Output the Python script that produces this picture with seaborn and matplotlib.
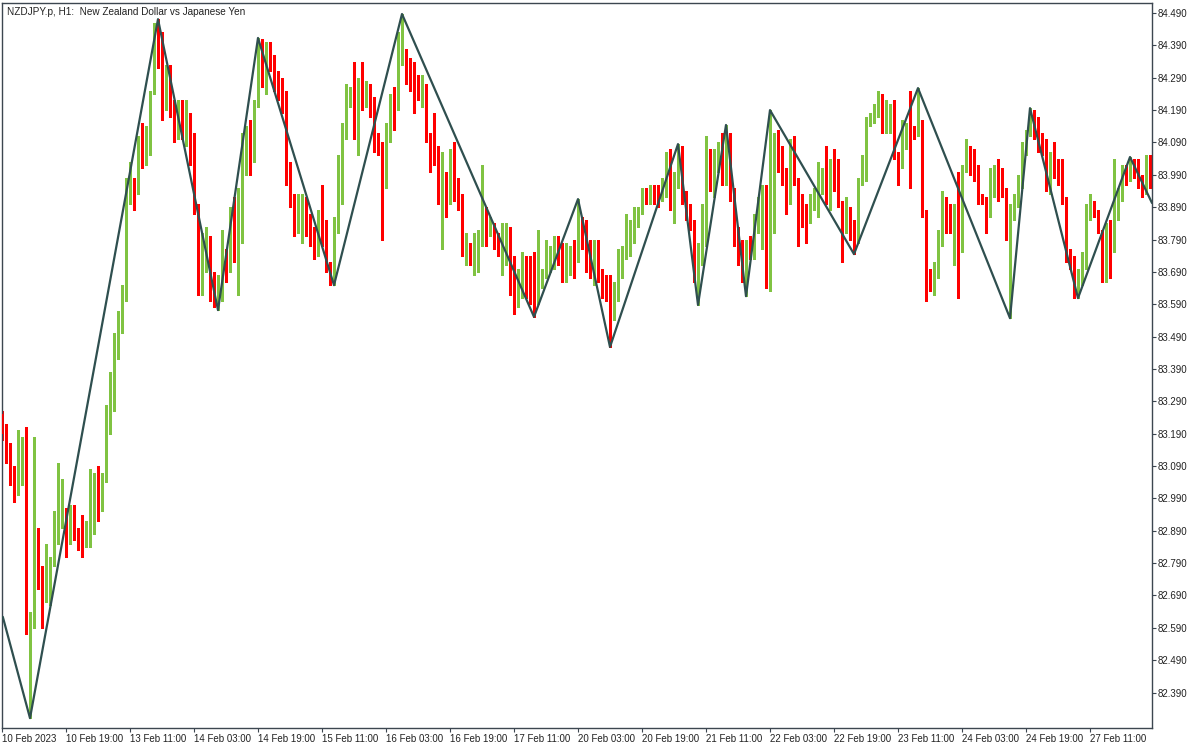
import numpy as np
import pandas as pd
import matplotlib
matplotlib.use("Agg")
import matplotlib.pyplot as plt
import seaborn as sns

# NZDJPY H1 candles (open of each bar = previous close)
first_open = 83.25
closes = [
    83.19, 83.15, 83.07, 83.05, 83.08, 83.13, 82.61, 82.62, 82.84, 82.75,
    82.68, 82.71, 82.79, 82.92, 82.94, 82.95, 82.87, 82.95, 82.88, 82.87,
    82.85, 82.85, 83.02, 83.04, 82.97, 83.05, 83.20, 83.35, 83.45, 83.54,
    83.63, 83.95, 83.97, 83.94, 84.10, 84.02, 84.09, 84.25, 84.45, 84.37,
    84.28, 84.31, 84.20, 84.10, 84.16, 84.13, 84.15, 84.09, 83.89, 83.71,
    83.77, 83.79, 83.63, 83.60, 83.63, 83.72, 83.70, 83.82, 83.80, 83.87,
    84.00, 84.11, 84.04, 84.21, 84.40, 84.30, 84.38, 84.35, 84.27, 84.25,
    84.23, 84.02, 83.91, 83.83, 83.85, 83.89, 83.83, 83.81, 83.77, 83.86,
    83.84, 83.70, 83.66, 83.84, 83.92, 84.13, 84.22, 84.23, 84.13, 84.28,
    84.22, 84.26, 84.20, 84.09, 84.08, 83.97, 84.14, 84.23, 84.20, 84.35,
    84.37, 84.34, 84.29, 84.27, 84.25, 84.26, 84.10, 84.08, 84.07, 83.91,
    83.94, 83.92, 84.04, 83.95, 83.92, 83.76, 83.77, 83.72, 83.73, 83.81,
    83.88, 83.82, 83.83, 83.79, 83.76, 83.80, 83.81, 83.73, 83.60, 83.69,
    83.72, 83.65, 83.64, 83.60, 83.65, 83.68, 83.73, 83.75, 83.79, 83.77,
    83.67, 83.72, 83.74, 83.73, 83.81, 83.80, 83.76, 83.69, 83.77, 83.68,
    83.66, 83.63, 83.55, 83.63, 83.72, 83.74, 83.81, 83.82, 83.86, 83.88,
    83.94, 83.91, 83.95, 83.93, 83.92, 83.93, 84.05, 83.90, 83.96, 84.07,
    83.92, 83.87, 83.84, 83.69, 83.73, 83.78, 83.99, 83.95, 84.04, 84.05,
    83.97, 84.03, 83.93, 83.79, 83.72, 83.71, 83.78, 83.75, 83.83, 83.84,
    83.92, 83.75, 83.83, 84.09, 84.03, 83.99, 83.92, 84.08, 83.97, 83.88,
    83.87, 83.86, 83.90, 83.93, 83.96, 83.99, 83.91, 84.00, 83.96, 83.91,
    83.82, 83.86, 83.84, 83.79, 83.97, 84.03, 84.15, 84.17, 84.18, 84.22,
    84.13, 84.14, 84.18, 84.05, 84.03, 84.09, 84.14, 84.13, 84.12, 84.15,
    83.87, 83.68, 83.65, 83.69, 83.78, 83.90, 83.83, 83.82, 83.87, 83.81,
    84.01, 84.07, 84.00, 83.98, 83.92, 83.91, 83.87, 83.93, 83.99, 83.98,
    83.94, 83.80, 83.89, 83.90, 83.96, 84.06, 84.12, 84.19, 84.12, 84.08,
    84.07, 83.95, 84.04, 84.00, 83.99, 83.92, 83.74, 83.72, 83.62, 83.67,
    83.72, 83.86, 83.89, 83.88, 83.82, 83.67, 83.81, 83.77, 83.87, 83.93,
    84.01, 83.98, 84.04, 84.00, 83.98, 83.94, 84.02, 83.98,
]
highs = [
    83.26, 83.22, 83.16, 83.09, 83.20, 83.18, 83.21, 82.64, 83.18, 82.90,
    82.78, 82.85, 82.81, 82.95, 83.10, 83.05, 82.96, 82.97, 82.97, 82.90,
    82.94, 82.92, 83.08, 83.07, 83.09, 83.07, 83.28, 83.38, 83.50, 83.57,
    83.65, 83.98, 84.03, 83.98, 84.11, 84.15, 84.14, 84.25, 84.46, 84.471,
    84.43, 84.33, 84.33, 84.22, 84.22, 84.22, 84.22, 84.18, 84.12, 83.90,
    83.81, 83.83, 83.80, 83.69, 83.68, 83.82, 83.76, 83.89, 83.92, 83.95,
    84.12, 84.14, 84.16, 84.22, 84.413, 84.41, 84.40, 84.40, 84.36, 84.31,
    84.29, 84.25, 84.03, 83.93, 83.93, 83.93, 83.92, 83.87, 83.83, 83.88,
    83.96, 83.85, 83.72, 83.86, 84.05, 84.15, 84.27, 84.26, 84.34, 84.29,
    84.34, 84.28, 84.27, 84.23, 84.12, 84.09, 84.15, 84.24, 84.26, 84.43,
    84.487, 84.38, 84.35, 84.34, 84.30, 84.30, 84.27, 84.12, 84.18, 84.08,
    84.06, 84.00, 84.07, 84.09, 83.98, 83.93, 83.81, 83.78, 83.81, 83.82,
    84.02, 83.89, 83.86, 83.84, 83.81, 83.84, 83.84, 83.83, 83.74, 83.70,
    83.75, 83.74, 83.74, 83.75, 83.82, 83.70, 83.79, 83.77, 83.80, 83.80,
    83.78, 83.78, 83.77, 83.79, 83.915, 83.86, 83.85, 83.79, 83.79, 83.79,
    83.70, 83.68, 83.68, 83.66, 83.76, 83.77, 83.87, 83.85, 83.89, 83.89,
    83.95, 83.95, 83.96, 83.96, 83.96, 83.98, 84.06, 84.07, 84.00, 84.085,
    84.08, 83.94, 83.90, 83.85, 83.78, 83.90, 84.11, 84.07, 84.07, 84.09,
    84.12, 84.144, 84.12, 83.95, 83.83, 83.79, 83.79, 83.80, 83.87, 83.92,
    83.96, 83.96, 84.19, 84.12, 84.13, 84.08, 84.01, 84.10, 84.11, 83.98,
    83.93, 83.90, 83.93, 83.95, 84.03, 84.01, 84.08, 84.04, 84.07, 84.04,
    83.91, 83.92, 83.89, 83.85, 83.98, 84.05, 84.17, 84.18, 84.21, 84.25,
    84.24, 84.22, 84.21, 84.22, 84.06, 84.16, 84.15, 84.25, 84.14, 84.258,
    84.16, 83.88, 83.70, 83.72, 83.82, 83.94, 83.92, 83.90, 83.90, 84.00,
    84.02, 84.10, 84.08, 84.07, 84.02, 83.93, 83.92, 84.01, 84.02, 84.04,
    84.01, 83.95, 83.90, 83.93, 83.99, 84.09, 84.13, 84.196, 84.19, 84.17,
    84.12, 84.10, 84.06, 84.09, 84.04, 84.04, 83.92, 83.76, 83.74, 83.70,
    83.75, 83.90, 83.93, 83.91, 83.88, 83.82, 83.84, 83.85, 84.04, 83.95,
    84.02, 84.02, 84.045, 84.03, 84.04, 83.99, 84.05, 84.05,
]
lows = [
    83.17, 83.10, 83.03, 82.98, 83.00, 83.03, 82.57, 82.311, 82.59, 82.71,
    82.59, 82.67, 82.66, 82.78, 82.85, 82.90, 82.81, 82.85, 82.86, 82.83,
    82.81, 82.84, 82.84, 82.88, 82.92, 82.95, 83.04, 83.19, 83.26, 83.42,
    83.50, 83.60, 83.90, 83.88, 83.93, 84.01, 84.02, 84.05, 84.24, 84.32,
    84.16, 84.19, 84.17, 84.09, 84.10, 84.10, 84.08, 84.02, 83.87, 83.62,
    83.62, 83.69, 83.60, 83.58, 83.572, 83.60, 83.66, 83.69, 83.72, 83.62,
    83.78, 83.99, 83.99, 84.03, 84.20, 84.26, 84.24, 84.31, 84.25, 84.22,
    84.18, 83.96, 83.89, 83.80, 83.81, 83.78, 83.80, 83.77, 83.73, 83.74,
    83.77, 83.69, 83.65, 83.649, 83.81, 83.90, 84.10, 84.20, 84.10, 84.05,
    84.19, 84.20, 84.17, 84.06, 84.05, 83.79, 83.95, 84.09, 84.13, 84.19,
    84.33, 84.27, 84.25, 84.18, 84.22, 84.20, 84.09, 84.00, 84.02, 83.90,
    83.76, 83.86, 83.90, 83.91, 83.88, 83.74, 83.71, 83.71, 83.68, 83.69,
    83.77, 83.77, 83.80, 83.76, 83.74, 83.68, 83.71, 83.62, 83.56, 83.58,
    83.61, 83.61, 83.59, 83.551, 83.59, 83.64, 83.67, 83.69, 83.70, 83.71,
    83.66, 83.66, 83.68, 83.67, 83.72, 83.76, 83.69, 83.67, 83.65, 83.66,
    83.61, 83.60, 83.458, 83.54, 83.60, 83.67, 83.73, 83.74, 83.78, 83.83,
    83.87, 83.90, 83.90, 83.90, 83.89, 83.91, 83.92, 83.88, 83.84, 83.95,
    83.90, 83.85, 83.82, 83.66, 83.588, 83.71, 83.77, 83.94, 83.92, 84.00,
    83.96, 83.96, 83.91, 83.77, 83.71, 83.66, 83.615, 83.73, 83.73, 83.81,
    83.76, 83.64, 83.63, 83.81, 84.00, 83.96, 83.87, 83.90, 83.96, 83.77,
    83.83, 83.78, 83.84, 83.88, 83.86, 83.93, 83.90, 83.88, 83.94, 83.89,
    83.72, 83.81, 83.79, 83.745, 83.78, 83.96, 83.97, 84.14, 84.15, 84.17,
    84.12, 84.12, 84.12, 84.04, 83.96, 84.01, 84.07, 83.95, 84.10, 84.11,
    83.86, 83.60, 83.63, 83.62, 83.67, 83.77, 83.81, 83.81, 83.71, 83.61,
    83.75, 84.00, 83.99, 83.97, 83.90, 83.90, 83.81, 83.86, 83.92, 83.91,
    83.92, 83.79, 83.547, 83.85, 83.89, 83.95, 84.05, 84.11, 84.10, 84.06,
    84.05, 83.94, 83.93, 83.98, 83.96, 83.90, 83.72, 83.70, 83.61, 83.609,
    83.65, 83.70, 83.85, 83.86, 83.81, 83.66, 83.66, 83.67, 83.75, 83.85,
    83.91, 83.96, 83.97, 83.98, 83.95, 83.92, 83.93, 83.95,
]

# ZigZag indicator turning points (bar index, price)
zz_bars = [0.2, 7, 39, 54, 64, 83, 100, 133, 144, 152, 169, 174, 181, 186,
           192, 213, 229, 252, 257, 269, 282, 287.5]
zz_prices = [82.624, 82.311, 84.471, 83.572, 84.413, 83.649, 84.487, 83.551,
             83.915, 83.458, 84.085, 83.588, 84.144, 83.615, 84.190, 83.745,
             84.258, 83.547, 84.196, 83.609, 84.045, 83.903]

time_labels = ["10 Feb 2023", "10 Feb 19:00", "13 Feb 11:00", "14 Feb 03:00",
               "14 Feb 19:00", "15 Feb 11:00", "16 Feb 03:00", "16 Feb 19:00",
               "17 Feb 11:00", "20 Feb 03:00", "20 Feb 19:00", "21 Feb 11:00",
               "22 Feb 03:00", "22 Feb 19:00", "23 Feb 11:00", "24 Feb 03:00",
               "24 Feb 19:00", "27 Feb 11:00"]
price_ticks = [82.39, 82.49, 82.59, 82.69, 82.79, 82.89, 82.99, 83.09, 83.19,
               83.29, 83.39, 83.49, 83.59, 83.69, 83.79, 83.89, 83.99, 84.09,
               84.19, 84.29, 84.39, 84.49]

title = "NZDJPY.p, H1:  New Zealand Dollar vs Japanese Yen"

sns.set_style("white")
plt.rcParams["font.family"] = ["Liberation Sans", "DejaVu Sans"]

UP = "#80c342"
DOWN = "#ff0000"
FRAME = "#3c4650"
ZZ = "#2f4f4f"

df = pd.DataFrame({"close": closes, "high": highs, "low": lows})
df["open"] = [first_open] + closes[:-1]
df["bar"] = np.arange(len(df))
df["high"] = df[["high", "open", "close"]].max(axis=1)
df["low"] = df[["low", "open", "close"]].min(axis=1)
up = df["close"] >= df["open"]
colors = np.where(up, UP, DOWN)

fig = plt.figure(figsize=(12, 7.5), dpi=100)
ax = fig.add_axes([2 / 1200, 22 / 750, 1150 / 1200, 725 / 750])

# wicks and bodies
ax.vlines(df["bar"], df["low"], df["high"], colors=colors, linewidth=0.75,
          antialiased=False, zorder=2)
body_lo = df[["open", "close"]].min(axis=1)
body_h = (df["close"] - df["open"]).abs().clip(lower=0.003)
ax.bar(df["bar"], body_h, bottom=body_lo, width=0.72, color=colors,
       linewidth=0, antialiased=False, zorder=3)

zz = pd.DataFrame({"bar": zz_bars, "price": zz_prices})
sns.lineplot(data=zz, x="bar", y="price", sort=False, estimator=None,
             color=ZZ, linewidth=1.6, ax=ax, zorder=4)

ax.set_xlim(0.17, 287.5)
ax.set_ylim(82.2805, 84.521)
ax.set_xlabel("")
ax.set_ylabel("")

# price axis on the right
ax.yaxis.tick_right()
ax.set_yticks(price_ticks)
ax.set_yticklabels([f"{p:.3f}" for p in price_ticks])
ax.tick_params(axis="y", which="both", right=True, left=False, direction="out",
               length=3, width=0.8, color=FRAME, pad=1, labelsize=7,
               labelcolor="#222222")

# time axis
ax.set_xticks(np.arange(len(time_labels)) * 16)
ax.set_xticklabels(time_labels, ha="left")
ax.tick_params(axis="x", which="both", bottom=True, direction="out", length=3,
               width=0.8, color=FRAME, pad=1.5, labelsize=7, labelcolor="#222222")

for s in ax.spines.values():
    s.set_visible(True)
    s.set_color(FRAME)
    s.set_linewidth(1.0)

ax.text(0.004, 0.994, title, transform=ax.transAxes, ha="left", va="top",
        fontsize=7.2, color="#222222")

fig.savefig("out.png", dpi=100, facecolor="white")
